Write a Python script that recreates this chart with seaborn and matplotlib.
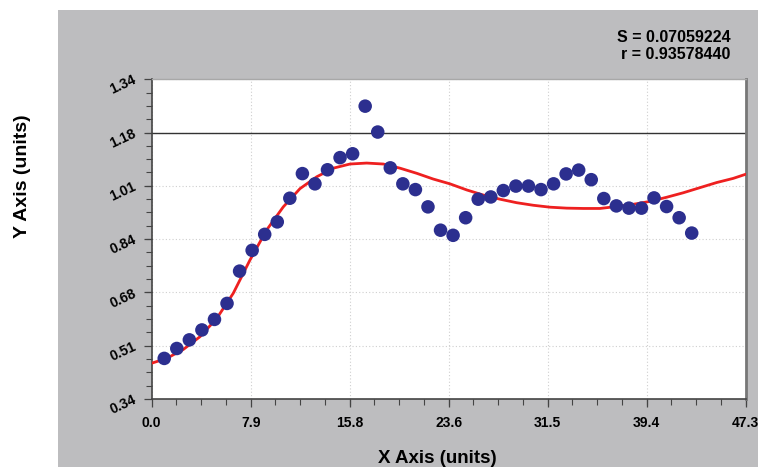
import numpy as np
import pandas as pd
import matplotlib
matplotlib.use("Agg")
import matplotlib.pyplot as plt
import seaborn as sns
from matplotlib.ticker import AutoMinorLocator

x_obs = list(range(1, 44))
y_obs = [0.467, 0.498, 0.525, 0.556, 0.589, 0.639, 0.740, 0.805, 0.855, 0.894,
         0.968, 1.045, 1.013, 1.057, 1.095, 1.107, 1.256, 1.175, 1.063, 1.013,
         0.995, 0.941, 0.868, 0.852, 0.907, 0.965, 0.972, 0.992, 1.006, 1.006,
         0.995, 1.013, 1.044, 1.056, 1.026, 0.967, 0.944, 0.937, 0.937, 0.969,
         0.942, 0.907, 0.859]

# curva ajustada
x_fit = [0.0, 1.19, 2.52, 3.85, 5.18, 6.5, 7.83, 9.16, 10.48, 11.81, 13.14,
         14.46, 15.79, 17.12, 18.44, 19.77, 21.1, 22.42, 23.75, 25.08, 26.4,
         27.73, 29.06, 30.38, 31.71, 33.04, 34.37, 35.69, 37.02, 38.34, 39.67,
         41.0, 42.32, 43.65, 44.98, 46.3, 47.3]
y_fit = [0.452, 0.467, 0.495, 0.535, 0.592, 0.671, 0.775, 0.869, 0.941, 0.998,
         1.035, 1.062, 1.075, 1.078, 1.075, 1.062, 1.046, 1.028, 1.013, 0.994,
         0.978, 0.965, 0.954, 0.946, 0.940, 0.937, 0.936, 0.936, 0.942, 0.949,
         0.958, 0.971, 0.985, 1.001, 1.017, 1.030, 1.043]

x_ticks = [0.0, 7.883, 15.767, 23.65, 31.533, 39.417, 47.3]
x_labels = ["0.0", "7.9", "15.8", "23.6", "31.5", "39.4", "47.3"]
y_ticks = [0.34, 0.5067, 0.6733, 0.84, 1.0067, 1.1733, 1.34]
y_labels = ["0.34", "0.51", "0.68", "0.84", "1.01", "1.18", "1.34"]
limite = 1.1733
stats_text = "S = 0.07059224\nr = 0.93578440"

df_obs = pd.DataFrame({"x": x_obs, "y": y_obs})
df_fit = pd.DataFrame({"x": x_fit, "y": y_fit})

sns.set_theme(style="ticks")
plt.rcParams['font.family'] = ['Liberation Sans', 'DejaVu Sans']
plt.rcParams['font.weight'] = 'bold'
plt.rcParams['text.color'] = 'black'

fig = plt.figure(figsize=(7.58, 4.67), dpi=100, facecolor="white")

# panel gris de fondo
bg = fig.add_axes([58 / 758, 0, 1 - 58 / 758, 1 - 10 / 467], zorder=0)
bg.set_facecolor("#bdbdbf")
bg.set_xticks([])
bg.set_yticks([])
for s in bg.spines.values():
    s.set_visible(False)

ax = fig.add_axes([0.2001, 0.1456, 0.7837, 0.6846], zorder=1)
ax.set_facecolor("white")

ax.axhline(limite, color="#333333", lw=1.0, zorder=2)
sns.lineplot(data=df_fit, x="x", y="y", ax=ax, color="#ee2020", lw=2.0,
             sort=False, zorder=3)
sns.scatterplot(data=df_obs, x="x", y="y", ax=ax, color="#2c2f8f", s=95,
                edgecolor="none", zorder=4)

ax.set_xlim(0, 47.3)
ax.set_ylim(0.34, 1.34)
ax.set_xticks(x_ticks)
ax.set_xticklabels(x_labels, fontsize=10, fontweight="bold")
ax.set_yticks(y_ticks)
ax.set_yticklabels(y_labels, fontsize=10, fontweight="bold", rotation=25,
                   rotation_mode="anchor", ha="right", va="center")
ax.xaxis.set_minor_locator(AutoMinorLocator(4))
ax.yaxis.set_minor_locator(AutoMinorLocator(4))
ax.tick_params(which="major", length=6, width=0.9, color="#444444", pad=6,
               labelcolor="black")
ax.tick_params(which="minor", length=4, width=0.8, color="#444444")
ax.grid(True, which="major", ls=(0, (1, 2)), color="#cfcfcf", lw=0.8)
ax.set_xlabel("")
ax.set_ylabel("")

for side in ["left", "bottom"]:
    ax.spines[side].set_color("#444444")
    ax.spines[side].set_linewidth(1.2)
ax.spines["top"].set_color("#a8a8a8")
ax.spines["top"].set_linewidth(1.0)
ax.spines["right"].set_color("#777777")
ax.spines["right"].set_linewidth(2.0)

fig.text(0.577, 0.019, "X Axis (units)", ha="center", va="center",
         fontsize=13.5, fontweight="bold")
fig.text(0.030, 0.623, "Y Axis (units)", ha="center", va="center",
         rotation=90, fontsize=14, fontweight="bold")
fig.text(0.964, 0.902, stats_text, ha="right", va="center", fontsize=11.5,
         fontweight="bold", linespacing=1.2)

fig.savefig("out.png", dpi=100, facecolor="white")
